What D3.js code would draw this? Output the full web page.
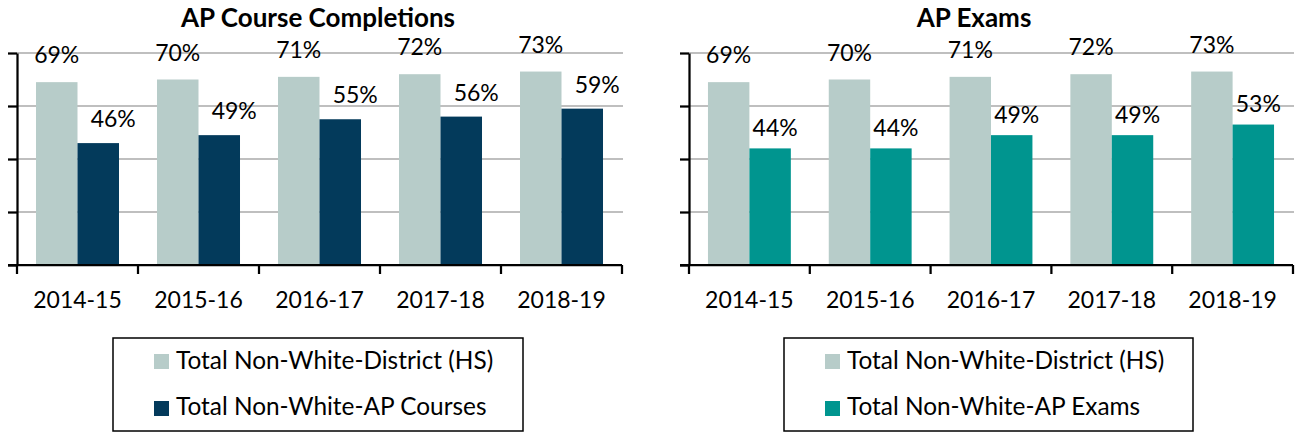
<!DOCTYPE html>
<html><head><meta charset="utf-8">
<script src="https://cdn.jsdelivr.net/npm/d3@7"></script>
<style>
body{margin:0;background:#fff}
svg{display:block}
text{font-family:Lato,"Open Sans",sans-serif;fill:#000}
</style>
</head><body>
<svg id="c" width="1296" height="432"></svg>
<script>
// ---- data ----
const categories = ["2014-15","2015-16","2016-17","2017-18","2018-19"];
const districtHS = [0.69,0.70,0.71,0.72,0.73];
const apCourses  = [0.46,0.49,0.55,0.56,0.59];
const apExams    = [0.44,0.44,0.49,0.49,0.53];
const yTicks = [0,0.2,0.4,0.6,0.8];
const titles = ["AP Course Completions","AP Exams"];
const leftNames  = ["Total Non-White-District (HS)","Total Non-White-AP Courses"];
const rightNames = ["Total Non-White-District (HS)","Total Non-White-AP Exams"];

// ---- styles / layout ----
const LIGHT = "#B7CCC9", NAVY = "#033A5B", TEAL = "#00958F";
const FS = 23, LFS = 24.4, TFS = 26;
const svg = d3.select("#c");
const y = d3.scaleLinear().domain([0,0.8]).range([265,53]);

const panels = [
  {title:titles[0], px0:17, px1:622, tx:318, series:[districtHS, apCourses], colors:[LIGHT,NAVY], names:leftNames,
   lab:[{dx:0,dy:19},{dx:15,dy:16}], lx:113, lw:410},
  {title:titles[1], px0:689, px1:1293, tx:974, series:[districtHS, apExams], colors:[LIGHT,TEAL], names:rightNames,
   lab:[{dx:0,dy:19},{dx:5,dy:12.5}], lx:784, lw:409}
];

const fmt = d3.format(".0%");

panels.forEach(p => {
  const g = svg.append("g");
  const x0 = d3.scaleBand().domain(categories).range([p.px0, p.px1]).padding(0);
  const gw = x0.bandwidth()*0.686;
  const x1 = d3.scaleBand().domain([0,1]).range([0, gw]).padding(0);
  const off = (x0.bandwidth()-gw)/2;

  // gridlines
  g.append("g").selectAll("line").data(yTicks.filter(t=>t>0)).join("line")
    .attr("x1", p.px0).attr("x2", p.px1+1).attr("y1", d=>y(d)).attr("y2", d=>y(d))
    .attr("stroke","#BFBFBF").attr("stroke-width",2);

  // bars
  p.series.forEach((vals, si) => {
    g.append("g").selectAll("rect").data(vals).join("rect")
      .attr("x", (d,i)=>x0(categories[i])+off+x1(si))
      .attr("width", x1.bandwidth())
      .attr("y", d=>y(d))
      .attr("height", d=>y(0)-y(d))
      .attr("fill", p.colors[si]);
    g.append("g").selectAll("text").data(vals).join("text")
      .attr("x", (d,i)=>x0(categories[i])+off+x1(si)+x1.bandwidth()/2+p.lab[si].dx)
      .attr("y", d=>y(d)-p.lab[si].dy)
      .attr("text-anchor","middle")
      .style("font-size",FS+"px")
      .text(d=>fmt(d));
  });

  // y axis
  const ya = g.append("g").attr("transform",`translate(${p.px0},0)`)
    .call(d3.axisLeft(y).tickValues(yTicks).tickSize(9).tickSizeOuter(0).tickFormat(""));
  ya.select(".domain").attr("stroke","#000").attr("stroke-width",2.25);
  ya.selectAll(".tick line").attr("stroke","#000").attr("stroke-width",2.25);

  // x axis labels
  const xa = g.append("g").attr("transform",`translate(0,${y(0)})`)
    .call(d3.axisBottom(x0).tickSize(0).tickPadding(27));
  xa.select(".domain").remove();
  xa.selectAll("text").style("font-size",FS+"px").style("font-family","Lato,'Open Sans',sans-serif").attr("fill","#000");
  // x axis line + boundary ticks
  g.append("line").attr("x1",p.px0-9).attr("x2",p.px1).attr("y1",y(0)).attr("y2",y(0))
    .attr("stroke","#000").attr("stroke-width",2.25);
  const bounds = categories.map(c=>x0(c)).concat([p.px1]);
  g.append("g").selectAll("line").data(bounds).join("line")
    .attr("x1",d=>d).attr("x2",d=>d).attr("y1",y(0)).attr("y2",y(0)+9)
    .attr("stroke","#000").attr("stroke-width",2.25);

  // title
  g.append("text").attr("x",p.tx).attr("y",27).attr("text-anchor","middle")
    .style("font-size",TFS+"px").style("font-weight","bold").text(p.title);

  // legend
  const lg = g.append("g");
  lg.append("rect").attr("x",p.lx).attr("y",338).attr("width",p.lw).attr("height",93)
    .attr("fill","none").attr("stroke","#000").attr("stroke-width",1.5);
  p.names.forEach((n,i)=>{
    lg.append("rect").attr("x",p.lx+41).attr("y",354+i*47).attr("width",15).attr("height",15).attr("fill",p.colors[i]);
    lg.append("text").attr("x",p.lx+63).attr("y",369+i*46).style("font-size",LFS+"px").text(n);
  });
});
</script>
</body></html>
